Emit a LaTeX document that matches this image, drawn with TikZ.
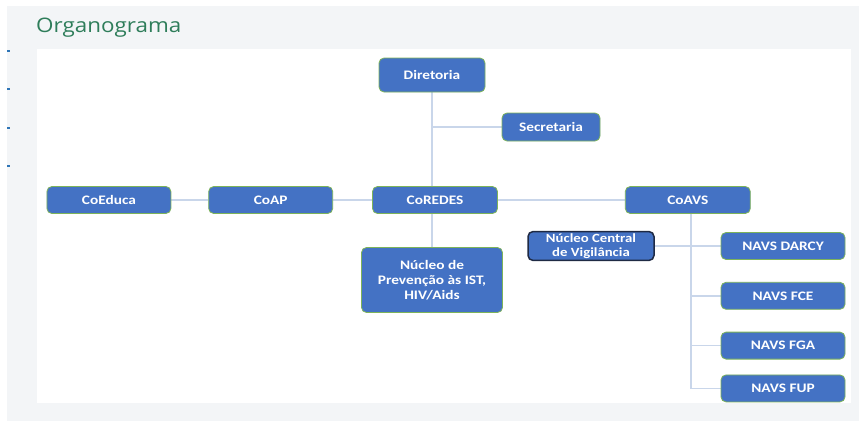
\documentclass[tikz,border=0pt]{standalone}
\usepackage{fontspec}
\usetikzlibrary{positioning, backgrounds}
\newfontfamily\boxfont[FakeStretch=1.18]{Carlito}
\newfontfamily\titlefont[FakeStretch=1.12]{Open Sans}
\definecolor{UnitBlue}{HTML}{4472C4}
\definecolor{EdgeGreen}{HTML}{7DB35A}
\definecolor{LinkBlue}{HTML}{C9D6EA}
\definecolor{DarkEdge}{HTML}{1F2A44}
\definecolor{PanelGray}{HTML}{F3F5F7}
\definecolor{TitleGreen}{HTML}{2E7D5A}
\definecolor{TickBlue}{HTML}{2E75B6}
\tikzset{
  unit/.style={draw=EdgeGreen, line width=0.8pt, rounded corners=5pt, fill=UnitBlue, align=center, minimum width=124pt, minimum height=27pt, inner sep=2pt, text=white, font=\boxfont\bfseries\fontsize{13}{15}\selectfont},
  darkunit/.style={unit, draw=DarkEdge, line width=1.5pt, font=\boxfont\bfseries\fontsize{12.5}{14}\selectfont},
  link/.style={draw=LinkBlue, line width=1.5pt}
}
\begin{document}
\begin{tikzpicture}[x=1pt, y=-1pt]
\useasboundingbox (0,0) rectangle (859,421);
\node[anchor=base west, text=TitleGreen, font=\titlefont\fontsize{20}{22}\selectfont, inner sep=0pt] (title) at (36,32) {Organograma};
% top row
\node[unit, minimum width=125pt] (coredes) at (435,200) {CoREDES};
\node[unit, left=39pt of coredes] (coap) {CoAP};
\node[unit, left=37pt of coap] (coeduca) {CoEduca};
\node[unit, minimum width=125pt, right=127pt of coredes] (coavs) {CoAVS};
\node[unit, minimum width=106pt, minimum height=34pt] (diretoria) at (432,75) {Diretoria};
\node[unit, minimum width=98pt, minimum height=28pt] (secretaria) at (551,127) {Secretaria};
\node[unit, minimum width=141pt, minimum height=65pt] (prevencao) at (432,280) {Núcleo de\\Prevenção às IST,\\HIV/Aids};
% vigilancia
\node[darkunit, minimum width=126pt, minimum height=28pt] (central) at (591,246) {Núcleo Central\\de Vigilância};
\node[unit] (darcy) at (783,246) {NAVS DARCY};
\node[unit, below=22pt of darcy] (fce) {NAVS FCE};
\node[unit, below=22pt of fce] (fga) {NAVS FGA};
\node[unit, below=15pt of fga] (fup) {NAVS FUP};
\begin{scope}[on background layer]
  \fill[PanelGray] (7,6) rectangle (859,421);
  \fill[white] (37,49) rectangle (851,403);
  \foreach \y in {51,89,128,166}
    \draw[TickBlue, line width=1.2pt] (7,\y) -- (10,\y);
  \draw[link] (diretoria) -- (prevencao);
  \draw[link] (secretaria.west) -- (secretaria.west -| diretoria);
  \draw[link] (coeduca) -- (coap);
  \draw[link] (coap) -- (coredes);
  \draw[link] (coredes) -- (coavs);
  \draw[link] ([xshift=3pt]coavs.south) |- (fup);
  \draw[link] (central) -- (darcy);
  \draw[link] ([xshift=3pt]coavs.south |- fce) -- (fce);
  \draw[link] ([xshift=3pt]coavs.south |- fga) -- (fga);
\end{scope}
\end{tikzpicture}
\end{document}
